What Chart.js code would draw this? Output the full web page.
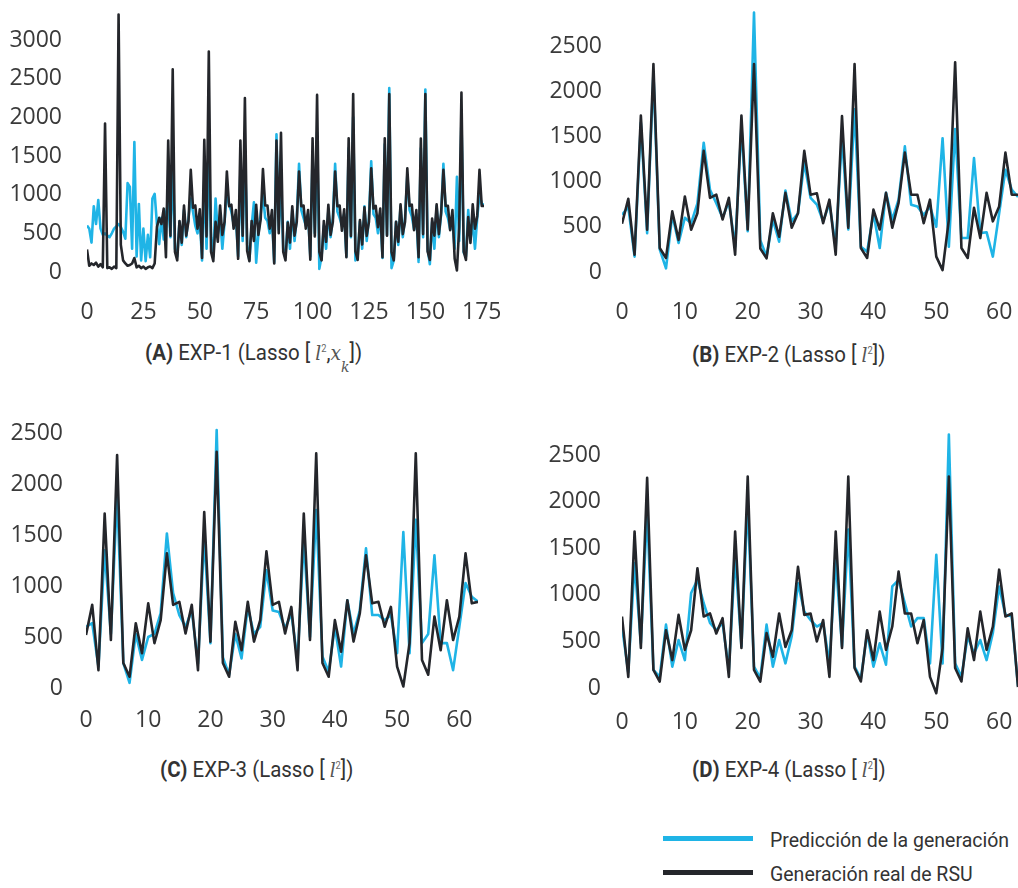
<!DOCTYPE html>
<html lang="es">
<head>
<meta charset="UTF-8">
<title>EXP Lasso - generación de RSU</title>
<script src="https://cdn.jsdelivr.net/npm/chart.js@4.4.1/dist/chart.umd.min.js"></script>
<style>
  body { margin: 0; background: #fff; width: 1018px; height: 888px; position: relative; overflow: hidden;
         font-family: Roboto, sans-serif; color: #333; }
  canvas { position: absolute; }
  .cap { position: absolute; font-size: 22px; white-space: nowrap; line-height: 1;
         transform: scaleX(0.93); transform-origin: left center; color: #333; }
  .cap b { font-weight: 700; }
  .m { font-family: 'DejaVu Serif', serif; font-style: italic; font-size: 20px; color: #555; }
  .cap sup { font-size: 10px; vertical-align: 8px; color: #666; }
  .cap sub { font-size: 15px; vertical-align: -12px; font-family: 'DejaVu Serif', serif; font-style: italic; color: #555; }
  .leg-line { position: absolute; left: 663px; width: 90px; height: 5px; }
  .leg-txt { position: absolute; left: 770px; font-size: 19.5px; line-height: 24px; color: #333; white-space: nowrap; }
</style>
</head>
<body>
  <canvas id="chA" width="500" height="340" style="left:0;top:0"></canvas>
  <canvas id="chB" width="498" height="340" style="left:520px;top:0"></canvas>
  <canvas id="chC" width="500" height="340" style="left:0;top:410px"></canvas>
  <canvas id="chD" width="498" height="340" style="left:520px;top:410px"></canvas>

  <div class="cap" style="left:145px;top:342px"><b>(A)</b> EXP-1 (Lasso [ <span class="m">l</span><sup>2</sup>,<span class="m">x</span><sub>k</sub>])</div>
  <div class="cap" style="left:692px;top:344px"><b>(B)</b> EXP-2 (Lasso [ <span class="m">l</span><sup>2</sup>])</div>
  <div class="cap" style="left:160px;top:759px"><b>(C)</b> EXP-3 (Lasso [ <span class="m">l</span><sup>2</sup>])</div>
  <div class="cap" style="left:692px;top:759px"><b>(D)</b> EXP-4 (Lasso [ <span class="m">l</span><sup>2</sup>])</div>

  <div class="leg-line" style="top:836px;background:#1fb4e6"></div>
  <div class="leg-txt" style="top:829px">Predicción de la generación</div>
  <div class="leg-line" style="top:870px;background:#24262b"></div>
  <div class="leg-txt" style="top:863px">Generación real de RSU</div>

<script>
// ejes
const yTicksA = [0, 500, 1000, 1500, 2000, 2500, 3000];
const yTicks = [0, 500, 1000, 1500, 2000, 2500];
const xTicksA = [0, 25, 50, 75, 100, 125, 150, 175];
const xTicks = [0, 10, 20, 30, 40, 50, 60];

// EXP-1: serie completa (177 días)
const realA = [
  290, 80, 110, 90, 120, 70, 100, 60, 1920, 50,
  60, 40, 70, 50, 3330, 350, 150, 110, 80, 90,
  110, 180, 60, 80, 50, 70, 40, 60, 70, 50,
  110, 580, 700, 620, 820, 190, 1700, 470, 2620, 260,
  150, 660, 380, 860, 470, 660, 1320, 830, 860, 560,
  810, 180, 1710, 460, 2850, 260, 140, 650, 390, 860,
  480, 650, 1300, 850, 870, 560, 800, 170, 1700, 470,
  2250, 270, 140, 660, 400, 870, 480, 680, 1330, 860,
  860, 560, 800, 110, 1700, 500, 1800, 260, 150, 640,
  380, 850, 470, 650, 1300, 850, 860, 560, 800, 160,
  1730, 460, 2290, 260, 150, 660, 390, 870, 480, 650,
  1300, 850, 860, 533, 810, 190, 1730, 467, 2300, 265,
  155, 670, 355, 835, 467, 650, 1340, 820, 855, 580,
  820, 190, 1730, 470, 2300, 260, 150, 650, 390, 875,
  490, 650, 1340, 855, 870, 540, 800, 190, 1725, 490,
  2300, 265, 155, 690, 470, 875, 490, 765, 1320, 855,
  855, 540, 800, 170, 20, 580, 2320, 265, 155, 710,
  375, 875, 560, 725, 1320, 855, 855
];
const predA = [
  600, 560, 380, 850, 620, 930, 560, 480, 500, 470,
  450, 500, 560, 590, 620, 580, 520, 430, 1150, 1100,
  300, 1680, 200, 880, 150, 560, 140, 480, 190, 950,
  1010, 620, 360, 700, 420, 760, 900, 450, 1400, 300,
  200, 650, 350, 800, 450, 700, 950, 780, 600, 500,
  700, 150, 1200, 300, 1500, 450, 200, 950, 500, 700,
  300, 650, 1050, 870, 780, 620, 700, 200, 1300, 400,
  1600, 350, 150, 600, 900, 120, 500, 750, 1000, 700,
  660, 500, 700, 120, 1780, 550, 1100, 300, 200, 650,
  300, 800, 400, 700, 1400, 800, 700, 600, 750, 200,
  1500, 500, 1800, 40, 200, 600, 300, 800, 450, 700,
  1400, 780, 700, 600, 750, 200, 1600, 450, 2000, 150,
  200, 650, 300, 850, 400, 700, 1430, 750, 700, 500,
  750, 180, 1650, 480, 2380, 50, 150, 650, 350, 850,
  450, 700, 1250, 800, 720, 550, 750, 130, 1600, 450,
  2360, 300, 100, 650, 300, 850, 450, 750, 1400, 780,
  700, 550, 650, 300, 1230, 400, 2000, 250, 200, 800,
  420, 650, 300, 700, 1000, 880, 870
];

// EXP-2 .. EXP-4: periodo de prueba (64 días)
const realB = [
  533, 810, 190, 1730, 467, 2300, 265, 155, 670, 355,
  835, 467, 650, 1340, 820, 855, 580, 820, 190, 1730,
  470, 2300, 260, 150, 650, 390, 875, 490, 650, 1340,
  855, 870, 540, 800, 190, 1725, 490, 2300, 265, 155,
  690, 470, 875, 490, 765, 1320, 855, 855, 540, 800,
  170, 20, 580, 2320, 265, 155, 710, 375, 875, 560,
  725, 1320, 855, 855
];
const predB = [
  633, 720, 170, 1650, 430, 2200, 250, 40, 630, 320,
  600, 540, 760, 1430, 910, 760, 600, 780, 280, 1610,
  450, 2870, 350, 170, 580, 335, 900, 560, 650, 1210,
  820, 745, 560, 760, 280, 1500, 470, 1800, 280, 225,
  650, 265, 875, 580, 800, 1390, 745, 725, 630, 725,
  500, 1480, 280, 1580, 375, 375, 1260, 430, 440, 170,
  650, 1130, 910, 830
];

const realC = [
  520, 815, 175, 1710, 470, 2285, 245, 110, 635, 340,
  830, 440, 665, 1320, 815, 845, 535, 815, 175, 1725,
  455, 2315, 245, 110, 650, 370, 845, 455, 665, 1340,
  815, 845, 535, 795, 175, 1710, 470, 2300, 245, 110,
  665, 355, 860, 455, 730, 1300, 830, 845, 600, 795,
  210, 15, 440, 2300, 275, 130, 700, 370, 860, 470,
  700, 1320, 830, 845
];
const predC = [
  600, 635, 210, 1350, 530, 1900, 245, 50, 530, 275,
  500, 530, 735, 1515, 930, 715, 600, 760, 240, 1480,
  440, 2530, 300, 130, 530, 290, 790, 530, 600, 1155,
  760, 745, 585, 730, 275, 1450, 500, 1745, 310, 160,
  600, 210, 860, 530, 760, 1370, 715, 715, 665, 715,
  340, 1530, 340, 1650, 440, 530, 1300, 440, 440, 175,
  600, 1030, 895, 845
];

const realD = [
  767, 120, 1680, 430, 2255, 195, 70, 620, 300, 785,
  410, 620, 1285, 767, 800, 585, 750, 120, 1680, 430,
  2270, 195, 70, 590, 335, 800, 440, 620, 1300, 785,
  800, 500, 730, 120, 1680, 430, 2270, 215, 70, 620,
  300, 820, 410, 660, 1250, 800, 800, 480, 730, 120,
  -55, 430, 2270, 215, 70, 640, 300, 820, 410, 660,
  1270, 767, 800, 10
];
const predD = [
  660, 170, 1340, 480, 1900, 195, 120, 680, 230, 515,
  300, 1020, 1160, 910, 700, 620, 700, 195, 1410, 450,
  2000, 230, 110, 680, 230, 515, 265, 555, 1125, 820,
  730, 660, 700, 265, 1380, 450, 1700, 230, 100, 590,
  230, 480, 250, 1090, 1160, 910, 660, 750, 750, 265,
  1430, 265, 2720, 265, 120, 555, 370, 515, 300, 590,
  1090, 785, 770, 20
];

const BLUE = '#1fb4e6';
const DARK = '#24262b';
const tickFont = { family: "'Open Sans', sans-serif", size: 23 };
const tickColor = '#3a3a3a';

function panel(id, real, pred, c) {
  const pts = arr => arr.map((v, i) => ({ x: i, y: v }));
  const line = { pointRadius: 0, borderWidth: 2.6, tension: 0, borderJoinStyle: 'round', fill: false };
  new Chart(document.getElementById(id), {
    type: 'line',
    data: {
      datasets: [
        Object.assign({ label: 'Generación real de RSU', data: pts(real), borderColor: DARK }, line),
        Object.assign({ label: 'Predicción de la generación', data: pts(pred), borderColor: BLUE }, line)
      ]
    },
    options: {
      responsive: false,
      animation: false,
      devicePixelRatio: 1,
      layout: { padding: c.pad },
      plugins: { legend: { display: false }, tooltip: { enabled: false } },
      scales: {
        x: {
          type: 'linear', min: 0, max: c.xMax,
          grid: { display: false, drawTicks: false }, border: { display: false },
          ticks: { padding: c.xPad, font: tickFont, color: tickColor, maxRotation: 0, autoSkip: false,
                   callback: v => String(v) },
          afterBuildTicks: s => { s.ticks = c.xTicks.map(v => ({ value: v })); },
          afterFit: s => { s.height = 50; s.paddingLeft = 0; s.paddingRight = 0; }
        },
        y: {
          min: c.yMin, max: c.yMax,
          grid: { display: false, drawTicks: false }, border: { display: false },
          ticks: { padding: c.yPad, font: tickFont, color: tickColor, callback: v => String(v) },
          afterBuildTicks: s => { s.ticks = c.yTicks.map(v => ({ value: v })); },
          afterFit: s => { s.width = c.yW; s.paddingTop = 0; s.paddingBottom = 0; }
        }
      }
    }
  });
}

panel('chA', realA, predA, { xMax: 176, xTicks: xTicksA, yTicks: yTicksA, yMin: -60, yMax: 3400, yW: 87, yPad: 25, xPad: 21.6,
  pad: { left: 0, right: 16, top: 9.1, bottom: 13.4 } });
panel('chB', realB, predB, { xMax: 63, xTicks: xTicks, yTicks: yTicks, yMin: -60, yMax: 2920, yW: 102, yPad: 20, xPad: 20.8,
  pad: { left: 0, right: 0, top: 8, bottom: 12.6 } });
panel('chC', realC, predC, { xMax: 63, xTicks: xTicks, yTicks: yTicks, yMin: -60, yMax: 2560, yW: 86, yPad: 23, xPad: 12.1,
  pad: { left: 0, right: 22, top: 16.9, bottom: 5.9 } });
panel('chD', realD, predD, { xMax: 63, xTicks: xTicks, yTicks: yTicks, yMin: -80, yMax: 2760, yW: 102, yPad: 21, xPad: 12.7,
  pad: { left: 0, right: 0, top: 20.8, bottom: 4.5 } });
</script>
</body>
</html>
